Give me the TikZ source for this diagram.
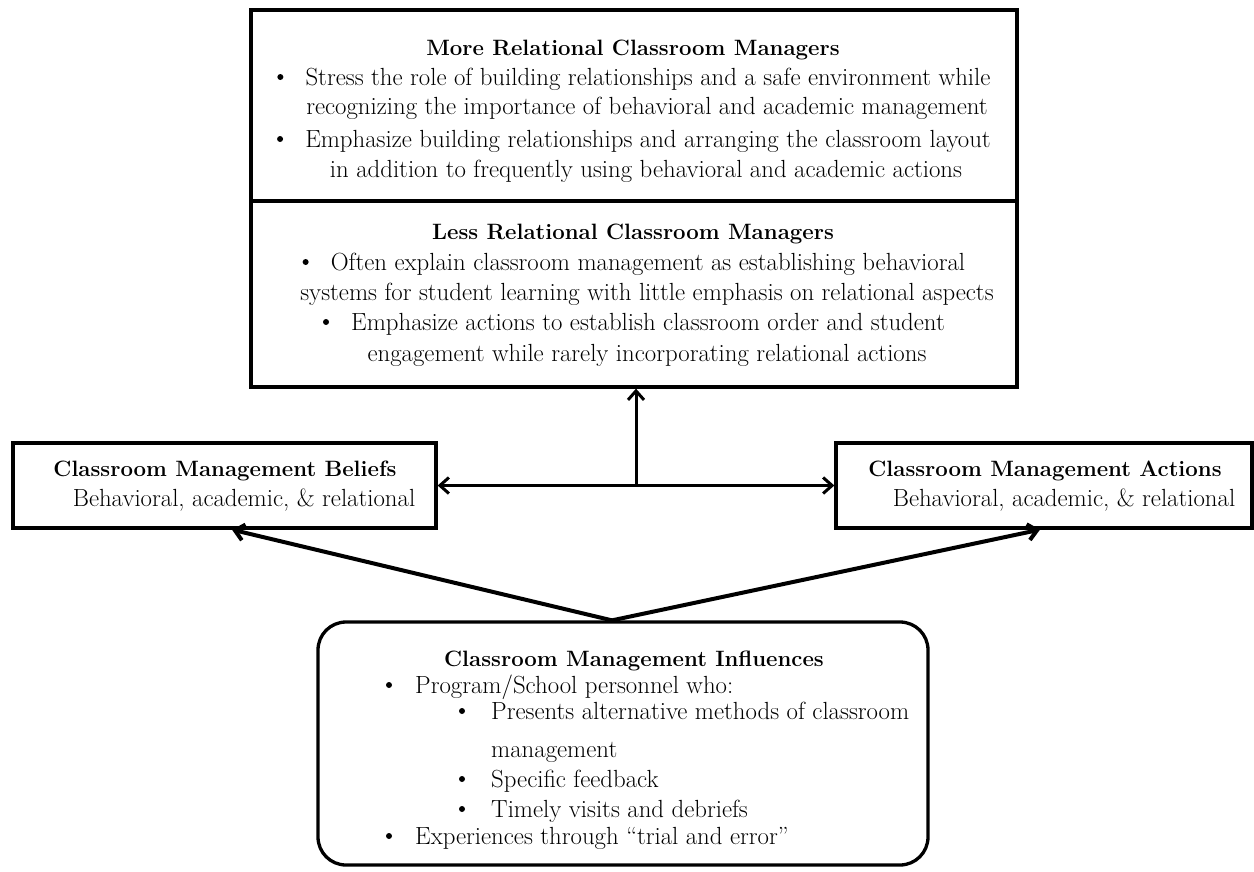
\documentclass[tikz,border=0pt]{standalone}
\usetikzlibrary{arrows.meta,calc}
\begin{document}
\begin{tikzpicture}[x=1pt,y=-1pt,
  box/.style={draw,line width=3.3pt,inner sep=0pt},
  txt/.style={inner sep=0pt,anchor=base,font=\fontsize{24.8}{30}\selectfont},
  ltxt/.style={txt,anchor=base west},
  ttl/.style={txt,font=\fontsize{22.2}{30}\selectfont\bfseries},
  dot/.style={circle,fill,inner sep=0pt,minimum size=6pt},
  arr/.style={line width=3pt,-{Straight Barb[length=9pt,width=16pt]}},
  dbl/.style={line width=3pt,{Straight Barb[length=9pt,width=16pt]}-{Straight Barb[length=9pt,width=16pt]}}
]
\useasboundingbox (0,0) rectangle (1254,871);

% boxes
\node[box,minimum width=766pt,minimum height=191pt] (more) at (634,105.5) {};
\node[box,minimum width=766pt,minimum height=186pt] (less) at (634,294) {};
\node[box,minimum width=423pt,minimum height=85pt] (beliefs) at (224.5,485.5) {};
\node[box,minimum width=416pt,minimum height=85pt] (actions) at (1044,485.5) {};
\node[box,rounded corners=28pt,minimum width=610pt,minimum height=243pt] (infl) at (623,743.5) {};

% top box text
\node[ttl] (t1) at (633,55) {More Relational Classroom Managers};
\node[txt] (a1) at (648,85) {Stress the role of building relationships and a safe environment while};
\node[txt] (a2) at (647,114) {recognizing the importance of behavioral and academic management};
\node[txt] (a3) at (648,147) {Emphasize building relationships and arranging the classroom layout};
\node[txt] (a4) at (646,177) {in addition to frequently using behavioral and academic actions};
\node[dot] (ad1) at ($(a1.base west)+(-25,-8)$) {};
\node[dot] (ad3) at ($(a3.base west)+(-25,-8)$) {};

\node[ttl] (t2) at (633,239) {Less Relational Classroom Managers};
\node[txt] (b1) at (648,270) {Often explain classroom management as establishing behavioral};
\node[txt] (b2) at (647,300) {systems for student learning with little emphasis on relational aspects};
\node[txt] (b3) at (648,330) {Emphasize actions to establish classroom order and student};
\node[txt] (b4) at (647,361) {engagement while rarely incorporating relational actions};
\node[dot] (bd1) at ($(b1.base west)+(-25,-8)$) {};
\node[dot] (bd3) at ($(b3.base west)+(-25,-8)$) {};

% side boxes text
\node[ttl] (bt) at (225,476) {Classroom Management Beliefs};
\node[txt] (bs) at (244,506) {Behavioral, academic, \& relational};
\node[ttl] (at) at (1045,476) {Classroom Management Actions};
\node[txt] (as) at (1064,506) {Behavioral, academic, \& relational};

% bottom box text
\node[ttl] (it) at (634,666) {Classroom Management Influences};
\node[dot] (id1) at (389,685) {};
\node[ltxt] (i1) at (415,693) {Program/School personnel who:};
\node[dot] (id2) at (462,711) {};
\node[ltxt] (i2) at (491,719) {Presents alternative methods of classroom};
\node[ltxt] (i3) at (491,757) {management};
\node[dot] (id4) at (462,779) {};
\node[ltxt] (i4) at (491,787) {Specific feedback};
\node[dot] (id5) at (462,809) {};
\node[ltxt] (i5) at (491,817) {Timely visits and debriefs};
\node[dot] (id6) at (389,836) {};
\node[ltxt] (i6) at (415,844) {Experiences through ``trial and error''};

% connectors
\coordinate (mid) at ($(beliefs.east)!0.5!(actions.west)$);
\coordinate (apex) at ($(infl.north)+(-11,0)$);
\draw[dbl] (beliefs.east) -- (actions.west);
\draw[arr] (mid) -- (less.south -| mid);
\draw[arr,line width=4pt] (apex) -- ($(beliefs.south)+(7.5,0)$);
\draw[arr,line width=4pt] (apex) -- ($(actions.south)+(-4,0)$);
\end{tikzpicture}
\end{document}
